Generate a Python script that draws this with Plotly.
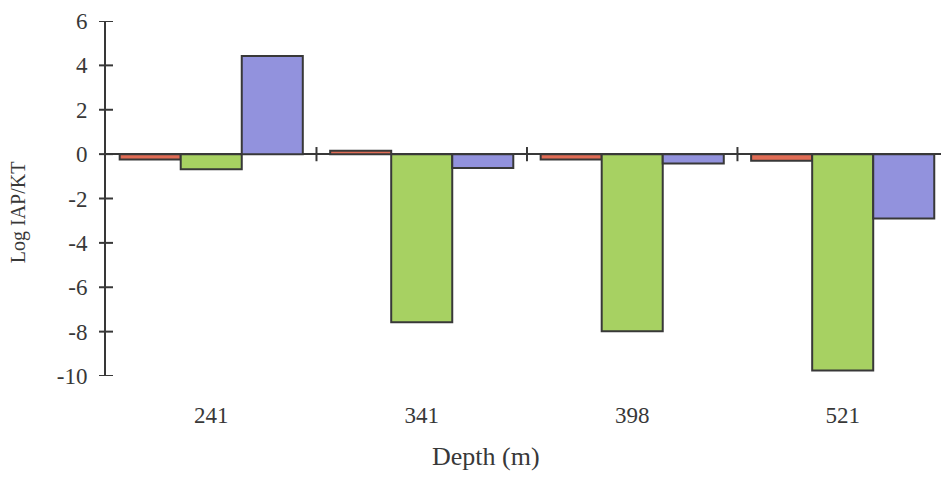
import plotly.graph_objects as go

# Log saturation indices by sampling depth
depths = ["241", "341", "398", "521"]
series_red = [-0.24, 0.15, -0.24, -0.30]
series_green = [-0.68, -7.58, -7.98, -9.75]
series_blue = [4.42, -0.62, -0.42, -2.9]

y_ticks = [6, 4, 2, 0, -2, -4, -6, -8, -10]
y_ticktext = ["6", "4", "2", "0", "-2", "-4", "-6", "-8", "-10"]

ink = "#383838"
serif = "Liberation Serif, Times New Roman, serif"

fig = go.Figure()
for vals, col in [(series_red, "#e06c55"), (series_green, "#a7d162"), (series_blue, "#9292dd")]:
    fig.add_trace(go.Bar(
        x=depths, y=vals,
        marker=dict(color=col, line=dict(color=ink, width=2)),
        showlegend=False,
    ))

# boundary tick marks between depth groups, crossing the zero line
for b in [0.5, 1.5, 2.5]:
    fig.add_shape(type="line", xref="x", yref="y", x0=b, x1=b, y0=-0.32, y1=0.32,
                  line=dict(color=ink, width=2), layer="above")

# y tick marks crossing the vertical axis line
for t in y_ticks:
    fig.add_shape(type="line", xref="paper", yref="y", xsizemode="pixel", xanchor=0,
                  x0=-7, x1=7, y0=t, y1=t, line=dict(color=ink, width=2), layer="above")

fig.update_layout(
    width=941, height=477,
    margin=dict(l=106, r=0, t=21, b=101),
    plot_bgcolor="white", paper_bgcolor="white",
    barmode="group", bargap=0.13, bargroupgap=0,
    font=dict(family=serif, size=22, color=ink),
    xaxis=dict(
        type="category", range=[-0.5, 3.467],
        showline=False, showgrid=False, zeroline=False,
        ticks="outside", ticklen=18, tickcolor="rgba(0,0,0,0)",
        tickfont=dict(size=23),
    ),
    yaxis=dict(
        range=[-10, 6], tickvals=y_ticks, ticktext=y_ticktext,
        showgrid=False, zeroline=True, zerolinecolor=ink, zerolinewidth=2,
        showline=True, linecolor=ink, linewidth=2,
        ticks="outside", ticklen=12, tickcolor="rgba(0,0,0,0)",
        tickfont=dict(size=23),
    ),
    annotations=[
        dict(text="Log IAP/KT", xref="paper", yref="paper", x=0, y=0.46,
             xshift=-101, textangle=-90, showarrow=False,
             font=dict(size=20, family=serif, color=ink)),
        dict(text="Depth (m)", xref="paper", yref="paper", x=0.455, y=0,
             yshift=-97, showarrow=False,
             font=dict(size=26, family=serif, color=ink)),
    ],
)

fig.write_html("out.html")
